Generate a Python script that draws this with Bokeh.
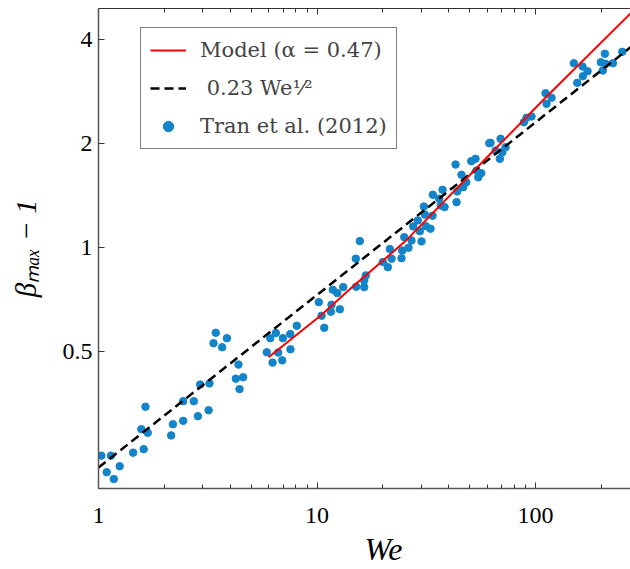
from bokeh.plotting import figure
from bokeh.models import (Range1d, FixedTicker, LogAxis, Legend, LegendItem, Title)
from bokeh.embed import file_html
from bokeh.resources import INLINE

# Tran et al. (2012) data: Weber number and beta_max - 1
we = [1.03, 1.14, 1.09, 1.175, 1.25, 1.44, 1.61, 1.57, 1.64, 1.68,
      2.15, 2.19, 2.44, 2.44, 2.73, 2.85, 2.92, 3.19, 3.22, 3.36,
      3.44, 3.68, 3.87, 4.25, 4.37, 4.42, 4.59, 5.89, 6.11, 6.26,
      6.48, 6.64, 6.98, 6.93, 7.54, 7.56, 8.08, 10.19, 10.49, 10.79,
      11.57, 11.65, 11.81, 12.37, 12.72, 13.18, 15.05, 15.70, 15.11, 16.44,
      16.44, 16.72, 20.0, 21.09, 21.54, 21.93, 24.36, 24.55, 25.07, 26.23,
      27.07, 27.56, 30.08, 29.55, 28.93, 31.14, 31.48, 33.07, 33.78, 30.82,
      33.88, 36.25, 36.87, 38.33, 37.53, 43.05, 43.50, 43.82, 45.84, 46.67,
      48.17, 50.79, 53.13, 53.70, 54.67, 56.42, 61.39, 62.23, 69.17, 65.62,
      70.42, 68.66, 72.91, 88.43, 90.96, 95.87, 111.1, 112.3, 118.4, 149.7,
      164.1, 173.0, 164.6, 155.2, 199.0, 207.6, 209.2, 203.2, 225.9, 249.4]
beta = [0.249, 0.249, 0.223, 0.213, 0.232, 0.254, 0.260, 0.297, 0.345, 0.290,
        0.285, 0.307, 0.314, 0.358, 0.358, 0.324, 0.400, 0.337, 0.403, 0.527,
        0.565, 0.513, 0.545, 0.416, 0.457, 0.388, 0.420, 0.496, 0.545, 0.463,
        0.564, 0.495, 0.545, 0.470, 0.560, 0.506, 0.592, 0.693, 0.633, 0.584,
        0.650, 0.681, 0.753, 0.736, 0.661, 0.766, 0.926, 1.041, 0.768, 0.766,
        0.801, 0.828, 0.905, 0.875, 0.987, 0.926, 0.929, 0.978, 1.069, 0.996,
        1.046, 1.148, 1.039, 1.112, 1.195, 1.243, 1.150, 1.131, 1.233, 1.311,
        1.418, 1.381, 1.320, 1.306, 1.466, 1.735, 1.350, 1.450, 1.620, 1.492,
        1.542, 1.774, 1.802, 1.667, 1.594, 1.638, 2.0, 2.005, 2.06, 1.905,
        1.883, 1.802, 1.947, 2.30, 2.369, 2.39, 2.791, 2.601, 2.707, 3.408,
        3.335, 3.232, 3.125, 2.991, 3.431, 3.630, 3.395, 3.247, 3.408, 3.678]

# Model curve (alpha = 0.47)
model_we = [6.0, 10.5, 14.2, 25.4, 62.2, 111.0, 272.0]
model_beta = [0.48, 0.637, 0.758, 1.041, 1.864, 2.707, 4.75]

# Scaling law 0.23 We^(1/2), end points
fit_we = [1.0, 272.0]
fit_beta = [0.23, 3.79]

x_ticks = [1, 10, 100]
x_minor = [2, 3, 4, 5, 6, 7, 8, 9, 20, 30, 40, 50, 60, 70, 80, 90, 200]
y_ticks = [0.5, 1, 2, 4]

SERIF = "Liberation Serif"

p = figure(width=630, height=569, x_axis_type="log", y_axis_type="log",
           x_range=Range1d(1, 272), y_range=Range1d(0.2, 4.91),
           output_backend="svg", toolbar_location=None,
           min_border_left=98, min_border_right=0, min_border_top=8,
           min_border_bottom=81)
p.grid.visible = False
p.outline_line_color = None
p.background_fill_color = "white"
p.border_fill_color = "white"

xt = FixedTicker(ticks=x_ticks, minor_ticks=x_minor)
yt = FixedTicker(ticks=y_ticks, minor_ticks=[])

p.xaxis.ticker = xt
p.yaxis.ticker = yt
p.xaxis.major_label_overrides = {1: "1", 10: "10", 100: "100"}
p.yaxis.major_label_overrides = {0.5: "0.5", 1: "1", 2: "2", 4: "4"}

for ax in list(p.xaxis) + list(p.yaxis):
    ax.axis_line_color = "#555555"
    ax.axis_line_width = 1.5
    ax.major_tick_line_color = "#333333"
    ax.minor_tick_line_color = "#333333"
    ax.major_tick_in = 6
    ax.major_tick_out = 0
    ax.minor_tick_in = 4
    ax.minor_tick_out = 0
    ax.major_label_text_font = SERIF
    ax.major_label_text_font_size = "24px"
    ax.major_label_text_color = "black"
p.xaxis.major_label_standoff = 19
p.yaxis.major_label_standoff = 6

# y axis title
p.yaxis.axis_label = "βₘₐₓ − 1"
p.yaxis.axis_label_text_font = SERIF
p.yaxis.axis_label_text_font_style = "italic"
p.yaxis.axis_label_text_font_size = "29px"
p.yaxis.axis_label_text_color = "black"
p.yaxis.axis_label_standoff = 18

top = LogAxis(ticker=xt, major_label_text_font_size="1px", major_label_standoff=0,
              major_label_text_color=None,
              axis_line_color="#333333", axis_line_width=1,
              major_tick_in=6, major_tick_out=0, minor_tick_in=4, minor_tick_out=0,
              major_tick_line_color="#333333", minor_tick_line_color="#333333")
p.add_layout(top, "above")

# x axis title
p.add_layout(Title(text="We", align="left", offset=266, standoff=6,
                   text_font=SERIF, text_font_style="italic", text_font_size="32px",
                   text_color="black"), "below")

r_data = p.scatter(we, beta, size=7.5, fill_color="#1384c9", line_color="#1384c9")
r_fit = p.line(fit_we, fit_beta, line_color="black", line_width=2.5, line_dash="9 5")
r_model = p.line(model_we, model_beta, line_color="#ff0000", line_width=2)

legend = Legend(items=[
    LegendItem(label="Model (α = 0.47)", renderers=[r_model]),
    LegendItem(label=" 0.23 We¹⁄²", renderers=[r_fit]),
    LegendItem(label="Tran et al. (2012)", renderers=[r_data]),
], location=(42, 339))
legend.label_text_font = "DejaVu Serif"
legend.label_text_font_size = "21px"
legend.label_height = 26
legend.glyph_height = 26
legend.glyph_width = 36
legend.label_standoff = 14
legend.spacing = 12
legend.padding = 9
legend.margin = 0
legend.border_line_color = "black"
legend.border_line_width = 1
legend.background_fill_alpha = 1
p.add_layout(legend)

open("out.html", "w").write(file_html(p, INLINE))
